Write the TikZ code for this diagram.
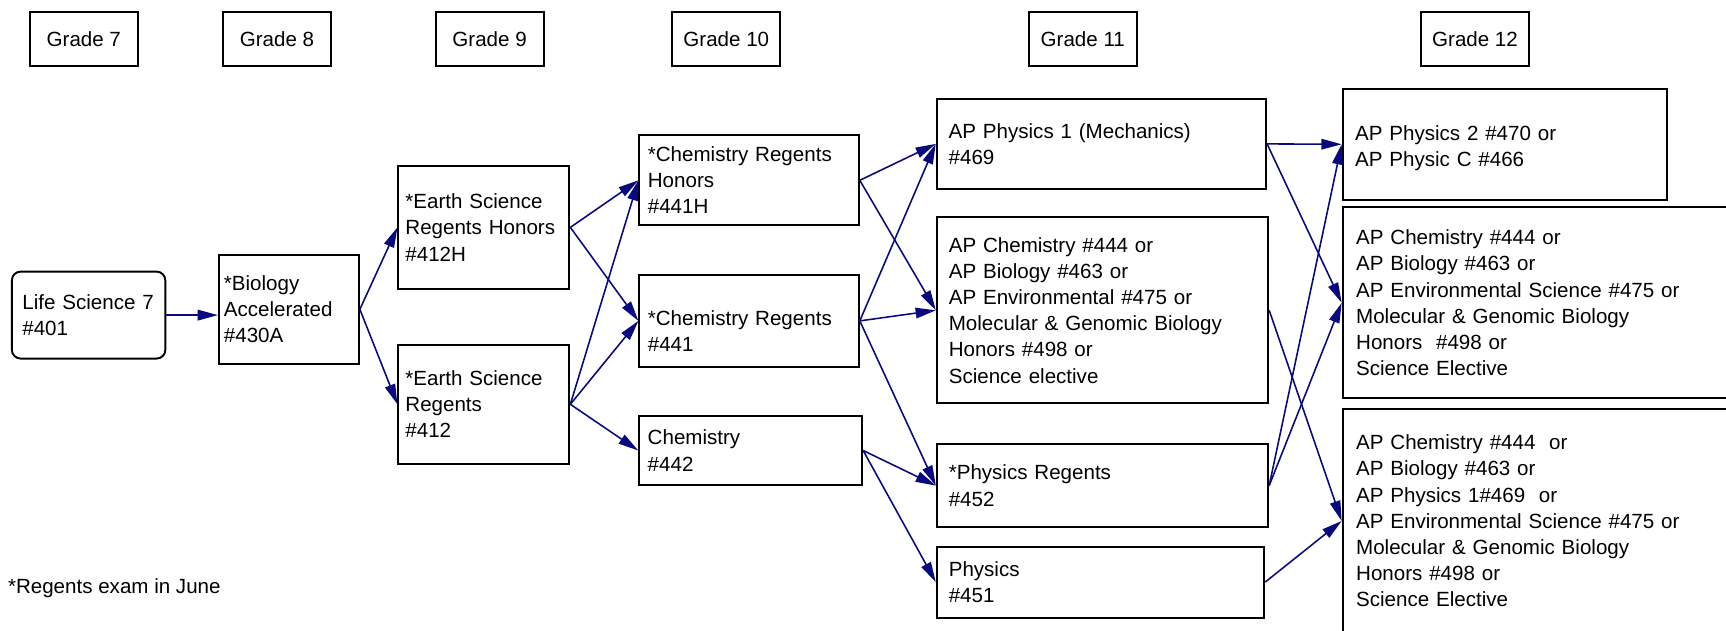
\documentclass[tikz,border=0pt]{standalone}
\usepackage{fontspec}
\setmainfont{Liberation Sans}
\usepackage{xcolor}
\definecolor{flownavy}{RGB}{10,10,128}
\usetikzlibrary{arrows.meta,positioning}

\tikzset{
  grade/.style={draw=black, line width=1.1pt, minimum width=2.16cm, minimum height=1.08cm, inner sep=0pt},
  course/.style={draw=black, line width=1.1pt, align=left, inner ysep=0pt},
  flow/.style={draw=flownavy, line width=0.9pt, -{Triangle[length=11.5pt,width=6pt]}}
}

\begin{document}
\begin{tikzpicture}[x=0.02cm, y=-0.02cm, font=\fontsize{11.7}{14.9}\selectfont]
  \useasboundingbox (0,0) rectangle (1726,631);
  \clip (0,0) rectangle (1726,631);

  % Grade headers
  \node[grade] (g7) at (83.8,39) {Grade 7};
  \node[grade] (g8) at (277,39) {Grade 8};
  \node[grade] (g9) at (489.6,39) {Grade 9};
  \node[grade] (g10) at (726.3,39) {Grade 10};
  \node[grade] (g11) at (1082.8,39) {Grade 11};
  \node[grade] (g12) at (1475,39) {Grade 12};

  % Grades 7 to 9
  \node[course, rounded corners=5pt, inner xsep=0.21cm, text width=2.65cm, minimum height=1.74cm] (life) at (88.6,315.1) {Life Science 7\\\#401};
  \node[course, inner xsep=0.10cm, text width=2.60cm, minimum height=2.17cm] (bio) at (288.9,309.3) {*Biology\\Accelerated\\\#430A};
  \node[course, inner xsep=0.14cm, text width=3.14cm, minimum height=2.45cm] (esh) at (483.9,227.4) {*Earth Science\\Regents Honors\\\#412H};
  \node[course, inner xsep=0.14cm, text width=3.14cm, minimum height=2.39cm] (esr) at (483.9,404.3) {*Earth Science\\Regents\\\#412};

  % Grade 10
  \node[course, inner xsep=0.17cm, text width=4.05cm, minimum height=1.80cm] (crh) at (749.1,180.3) {*Chemistry Regents\\Honors\\\#441H};
  \node[course, inner xsep=0.17cm, text width=4.05cm, minimum height=1.84cm] (cr) at (749.1,320.9) {\rule{0pt}{0.72cm}*Chemistry Regents\\\#441};
  \node[course, inner xsep=0.17cm, text width=4.12cm, minimum height=1.39cm] (chem) at (750.7,450.5) {Chemistry\\\#442};

  % Grade 11
  \node[course, inner xsep=0.24cm, text width=6.11cm, minimum height=1.81cm] (app1) at (1101.4,143.9) {AP Physics 1 (Mechanics)\\\#469};
  \node[course, inner xsep=0.24cm, text width=6.15cm, minimum height=3.72cm] (apsci) at (1102.5,310.3) {AP Chemistry \#444 or\\AP Biology \#463 or\\AP Environmental \#475 or\\Molecular \& Genomic Biology\\Honors \#498 or\\Science elective};
  \node[course, inner xsep=0.24cm, text width=6.15cm, minimum height=1.67cm] (physr) at (1102.5,485.6) {*Physics Regents\\\#452};
  \node[course, inner xsep=0.24cm, text width=6.07cm, minimum height=1.42cm] (phys) at (1100.5,582.1) {Physics\\\#451};

  % Grade 12
  \node[course, inner xsep=0.25cm, text width=5.99cm, minimum height=2.23cm] (app2) at (1504.8,144.3) {\rule{0pt}{0.45cm}AP Physics 2 \#470 or\\AP Physic C \#466};
  \node[course, inner xsep=0.27cm, text width=7.46cm, minimum height=3.82cm] (apsciA) at (1542.6,302.8) {AP Chemistry \#444 or\\AP Biology \#463 or\\AP Environmental Science \#475 or\\Molecular \& Genomic Biology\\Honors~ \#498 or\\Science Elective};
  \node[course, inner xsep=0.27cm, text width=7.46cm, minimum height=4.48cm] (apsciB) at (1542.6,521) {AP Chemistry \#444~ or\\AP Biology \#463 or\\AP Physics 1\#469~ or\\AP Environmental Science \#475 or\\Molecular \& Genomic Biology\\Honors \#498 or\\Science Elective};

  \node[anchor=west, inner sep=0pt] (note) at (7.7,588) {*Regents exam in June};

  % Connectors
  \draw[flow] (life.east) -- (life.east -| bio.west);
  \draw[flow] (bio.east) -- (esh.west);
  \draw[flow] (bio.east) -- (esr.west);
  \draw[flow] (esh.east) -- (crh.west);
  \draw[flow] (esh.east) -- (cr.west);
  \draw[flow] (esr.east) -- (crh.west);
  \draw[flow] (esr.east) -- (cr.west);
  \draw[flow] (esr.east) -- (chem.west);
  \draw[flow] (crh.east) -- (app1.west);
  \draw[flow] (crh.east) -- (apsci.west);
  \draw[flow] (cr.east) -- (app1.west);
  \draw[flow] (cr.east) -- (apsci.west);
  \draw[flow] (cr.east) -- (physr.west);
  \draw[flow] (chem.east) -- (physr.west);
  \draw[flow] (chem.east) -- (phys.west);
  \draw[flow] (app1.east) -- (app2.west);
  \draw[flow] (app1.east) -- (apsciA.west);
  \draw[flow] (apsci.east) -- (apsciB.west);
  \draw[flow] (physr.east) -- (app2.west);
  \draw[flow] (physr.east) -- (apsciA.west);
  \draw[flow] (phys.east) -- (apsciB.west);
\end{tikzpicture}
\end{document}
